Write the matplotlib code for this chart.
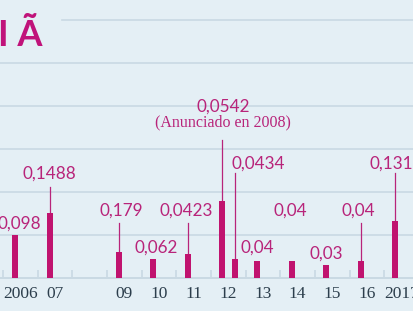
import matplotlib
matplotlib.use("Agg")
import matplotlib.pyplot as plt

# bar positions (year + fraction of year) and heights
bar_x = [2006.34, 2007.35, 2009.34, 2010.325, 2011.335, 2012.32, 2012.695,
         2013.33, 2014.34, 2015.32, 2016.33, 2017.31]
bar_h = [0.100, 0.151, 0.060, 0.044, 0.056, 0.179, 0.044,
         0.040, 0.040, 0.030, 0.040, 0.133]
labels = ["0,098", "0,1488", "0,179", "0,062", "0,0423", "0,0542", "0,0434",
          "0,04", "0,04", "0,03", "0,04", "0,1315"]

year_ticks = list(range(2006, 2018))
year_labels = ["2006", "07", "", "09", "10", "11", "12", "13", "14", "15", "16", "2017"]

# label placement (data coords) and leader line tops (None = no leader)
lab_x = [2006.46, 2007.34, 2009.40, 2010.41, 2011.28, 2012.35, 2013.35,
         2013.35, 2014.28, 2015.32, 2016.24, 2017.35]
lab_y = [0.1256, 0.2419, 0.1558, 0.0698, 0.1558, 0.3992, 0.2651,
         0.0698, 0.1558, 0.0558, 0.1558, 0.2651]
lead_top = [None, 0.2116, 0.1279, None, 0.1279, 0.3209, 0.2442,
            None, None, None, 0.1279, 0.2442]

BG = "#e4eff5"
GRID = "#c9d9e3"
MAG = "#c0136f"
TXT = "#b8247a"
DARK = "#2c3e4c"

fig = plt.figure(figsize=(4.14, 3.11), dpi=100, facecolor=BG)
ax = fig.add_axes([0, 0, 1, 1], facecolor=BG)
ax.set_xlim(2005.908, 2017.859)
ax.set_ylim(-0.0767, 0.6465)

for g in [0.1, 0.2, 0.3, 0.4, 0.5]:
    ax.axhline(g, color=GRID, lw=1.2, zorder=0)
ax.axhline(0.6, xmin=62 / 414, color=GRID, lw=1.2, zorder=0)

ax.bar(bar_x, bar_h, width=0.18, color=MAG, zorder=3)

for i in range(len(bar_x)):
    ax.text(lab_x[i], lab_y[i], labels[i], ha="center", va="center",
            fontsize=12.3, family="Lato", color=TXT, zorder=4)
    if lead_top[i] is not None:
        ax.plot([bar_x[i], bar_x[i]], [bar_h[i], lead_top[i]], color=TXT, lw=0.9, zorder=2)

ax.text(2012.35, 0.3619, "(Anunciado en 2008)", ha="center", va="center",
        fontsize=11.5, family="Liberation Serif", color=TXT)

for k in ["left", "right", "top"]:
    ax.spines[k].set_visible(False)
ax.spines["bottom"].set_position(("data", 0))
ax.spines["bottom"].set_color(GRID)
ax.spines["bottom"].set_linewidth(1.4)
ax.set_yticks([])
ax.set_xticks(year_ticks)
ax.set_xticklabels([])
ax.tick_params(axis="x", which="major", direction="in", length=6, color=GRID, width=1.2)
ax.set_xticks([y + 0.5 for y in year_ticks], minor=True)
ax.set_xticklabels(year_labels, minor=True, family="Liberation Serif", fontsize=12.5, color=DARK)
ax.tick_params(axis="x", which="minor", length=0, pad=5.5)

fig.text(-0.004, 0.852, "I Ã", fontsize=26, family="Lato", fontweight="bold",
         color="#c0137a", va="baseline", ha="left")

fig.savefig("out.png", dpi=100, facecolor=BG)
